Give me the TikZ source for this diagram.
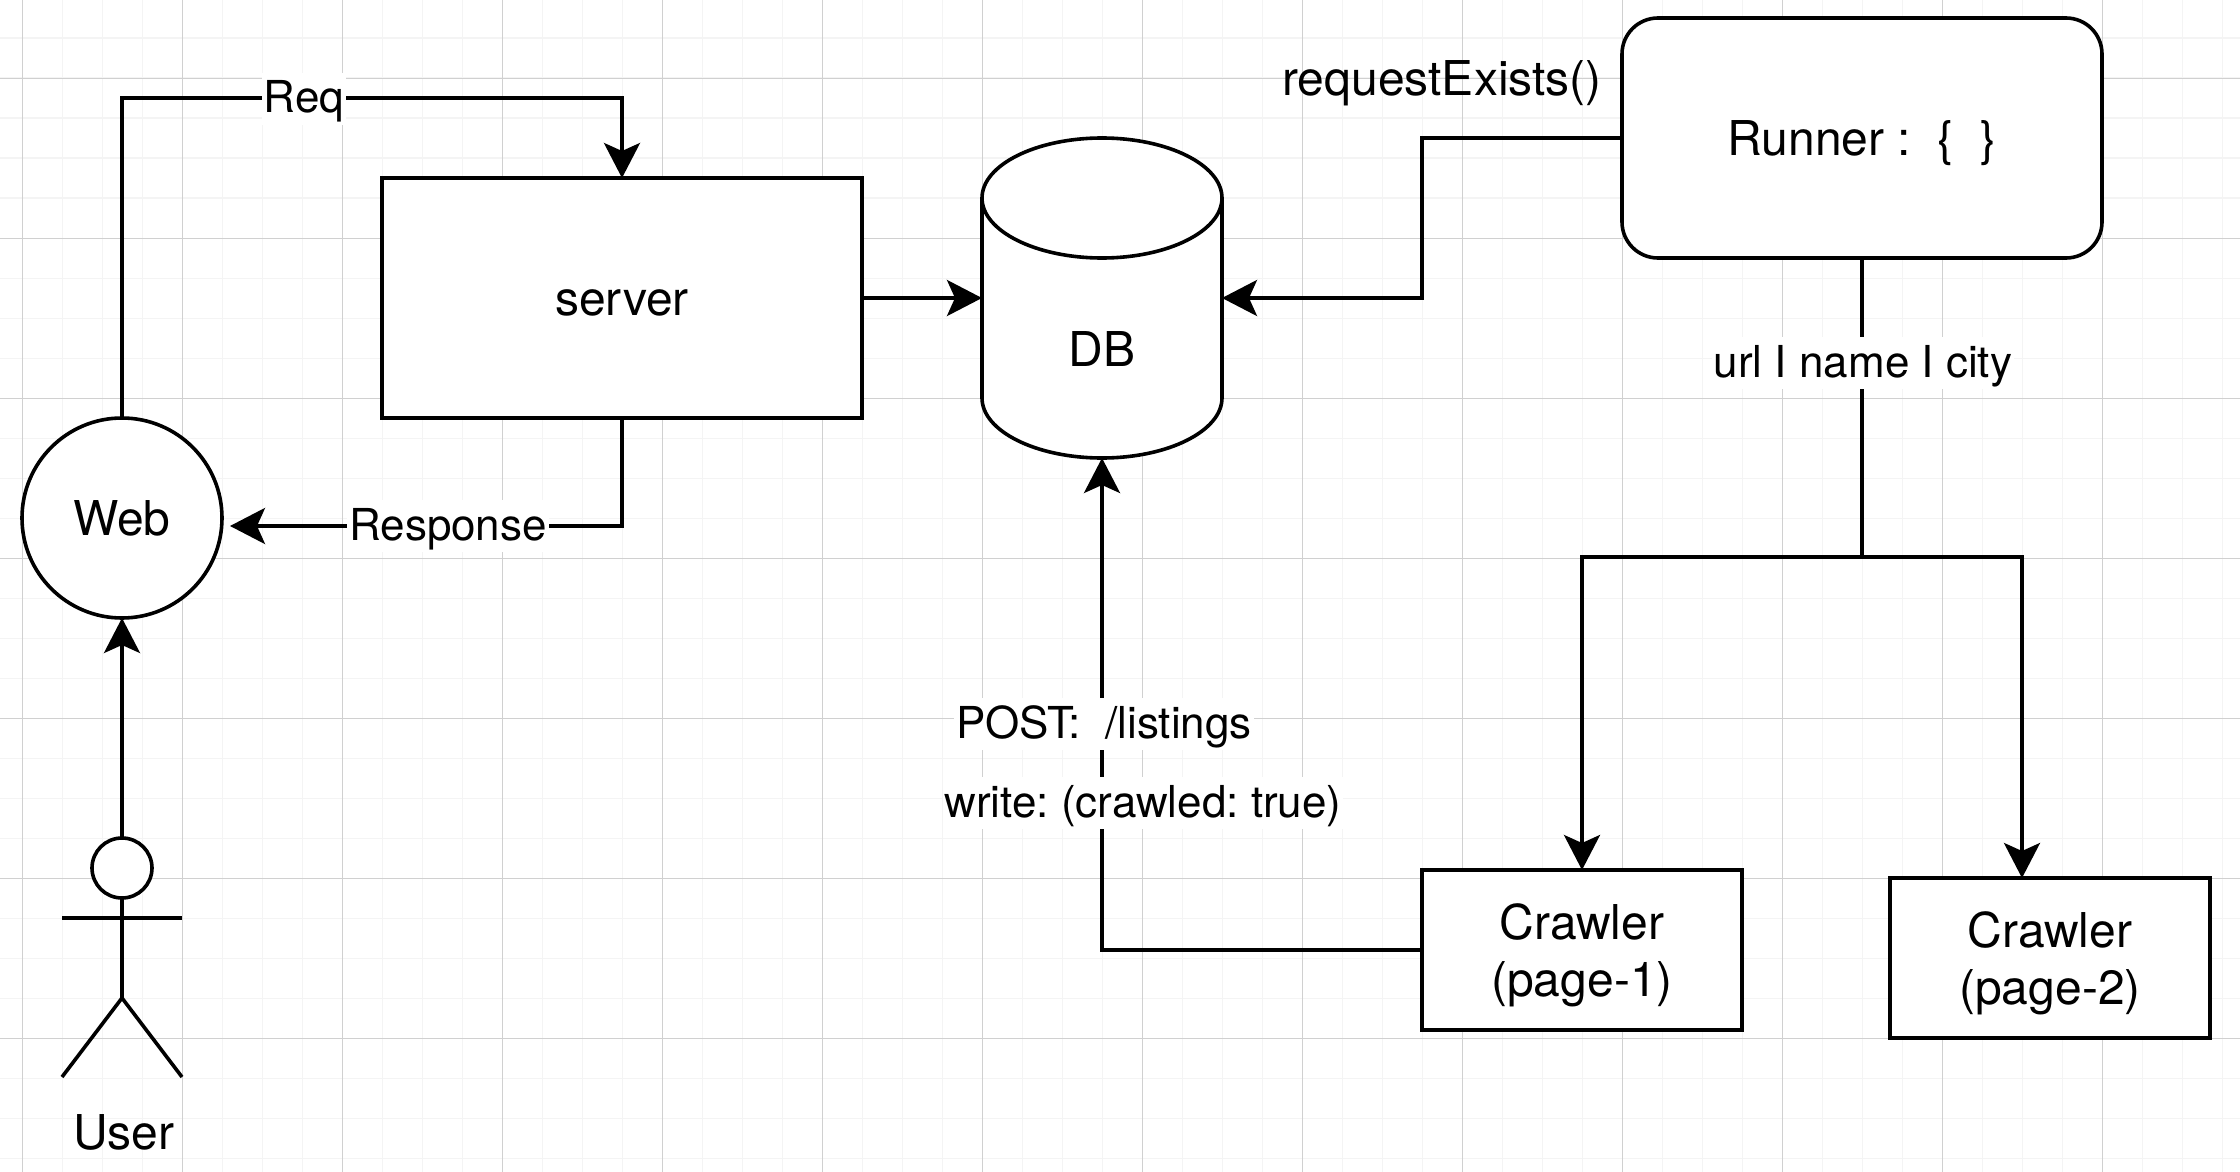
\documentclass[tikz,border=0pt]{standalone}
\usepackage{fontspec}
\setmainfont{TeX Gyre Heros}
\usetikzlibrary{arrows.meta}
\definecolor{ink}{RGB}{0,0,0}
\definecolor{gridmajor}{RGB}{208,208,208}
\definecolor{gridminor}{RGB}{244,244,244}
\tikzset{
  box/.style={draw=ink, fill=white, shape=rectangle, inner sep=0pt, outer sep=0pt, align=center, text height=17.5pt, text depth=0pt},
  crawlerbox/.style={box, minimum width=160pt, minimum height=80pt, text height=46pt},
  link/.style={draw=ink, -{Stealth[length=17.5pt, width=18pt, inset=4pt]}},
  plainlink/.style={draw=ink},
  linklabel/.style={fill=white, font=\fontsize{22}{26}\selectfont\frenchspacing, inner xsep=1pt, inner ysep=2pt, text height=18pt, text depth=4pt},
  textlabel/.style={inner sep=0pt, text height=17.5pt, text depth=0pt},
}

\begin{document}
\begin{tikzpicture}[x=0.5pt, y=-0.5pt, line width=1.8pt, font=\fontsize{24}{28.5}\selectfont]
  \useasboundingbox (0,0) rectangle (2240,1172);
  % grid paper
  \foreach \i in {0,...,55}{
    \draw[gridminor, line width=0.9pt] (22.5+40*\i,0)--(22.5+40*\i,1172);
  }
  \foreach \i in {0,...,28}{
    \draw[gridminor, line width=0.9pt] (0,38.4+40*\i)--(2240,38.4+40*\i);
  }
  \foreach \i in {0,...,13}{
    \draw[gridmajor, line width=0.6pt] (22.5+160*\i,0)--(22.5+160*\i,1172);
  }
  \foreach \i in {0,...,6}{
    \draw[gridmajor, line width=0.6pt] (0,78.4+160*\i)--(2240,78.4+160*\i);
  }
  % nodes
  \node[box, minimum width=240pt, minimum height=120pt] (server) at (622,298) {server};
  \node[box, shape=circle, minimum size=100pt] (web) at (122,518) {Web};
  \node[box, rounded corners=18pt, minimum width=240pt, minimum height=120pt] (runner) at (1862,138) {Runner :\ \ \{\ \ \}};
  \node[crawlerbox] (crawlerone) at (1582,950) {Crawler\\(page-1)};
  \node[crawlerbox] (crawlertwo) at (2050,958) {Crawler\\(page-2)};
  % db barrel
  \draw[draw=ink, fill=white] (982,198) .. controls (982,165) and (1036,138) .. (1102,138)
    .. controls (1168,138) and (1222,165) .. (1222,198) -- (1222,398)
    .. controls (1222,431) and (1168,458) .. (1102,458)
    .. controls (1036,458) and (982,431) .. (982,398) -- cycle;
  \draw[draw=ink] (982,198) .. controls (982,231) and (1036,258) .. (1102,258)
    .. controls (1168,258) and (1222,231) .. (1222,198);
  \node[minimum width=120pt, minimum height=160pt, inner sep=0pt, outer sep=0pt] (db) at (1102,298) {};
  \node[textlabel] (dbtext) at (1102,349) {DB};
  % user figure
  \node[box, shape=circle, minimum size=30pt] (userhead) at (122,868) {};
  \coordinate (hip) at (122,998);
  \coordinate (handl) at (62,918);
  \coordinate (handr) at (182,918);
  \coordinate (footl) at (62,1077);
  \coordinate (footr) at (182,1077);
  \draw[plainlink] (userhead.south)--(hip);
  \draw[plainlink] (handl)--(handr);
  \draw[plainlink] (footl)--(hip)--(footr);
  \node[textlabel] (usertext) at (124,1132) {User};
  % bends and free ends
  \coordinate (reqbend) at (622,98);
  \coordinate (webin) at (230,526);
  \coordinate (runnerbend) at (1422,298);
  \coordinate (fork) at (1862,557);
  \coordinate (forktwo) at (2022,557);
  % connectors
  \draw[link] (userhead.north)--(web.south);
  \draw[link] (web.north) |- (reqbend)--(server.north);
  \draw[link] (server.south) |- (webin);
  \draw[link] (server.east)--(db.west);
  \draw[link] (runner.west) -| (runnerbend)--(db.east);
  \draw[plainlink] (runner.south)--(fork);
  \draw[link] (fork) -| (crawlerone.north);
  \draw[link] (fork)--(forktwo)--(forktwo |- crawlertwo.north);
  \draw[link] (crawlerone.west) -| (db.south);
  % labels
  \node[linklabel] (reqtext) at (304,99) {Req};
  \node[linklabel] (responsetext) at (448,526) {Response};
  \node[linklabel] (urltext) at (1863,363) {url I name I city};
  \node[linklabel] (posttext) at (1104,724) {POST:\ \ /listings};
  \node[linklabel] (writetext) at (1143,803) {write: (crawled: true)};
  \node[textlabel] (requesttext) at (1442,78) {requestExists()};
\end{tikzpicture}
\end{document}
